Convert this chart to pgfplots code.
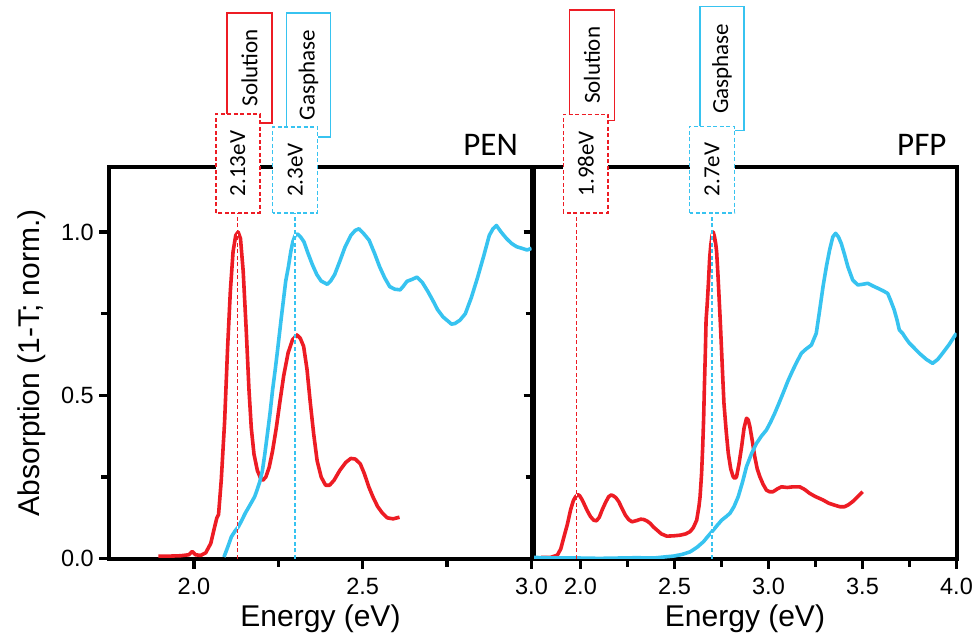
\documentclass[border=0pt]{standalone}
\usepackage{pgfplots}
\pgfplotsset{compat=1.18}
\usepackage{pgfplotstable}
\usepackage{fontspec}
\setmainfont{Liberation Sans}
\newfontfamily\boxfont{Carlito}
\usetikzlibrary{calc}

\definecolor{solred}{RGB}{237,28,36}
\definecolor{gasblue}{RGB}{55,195,240}

% ---------- PEN spectra ----------
\pgfplotstableread{
E A
1.895 0.008
1.930 0.008
1.960 0.009
1.985 0.012
1.995 0.022
2.005 0.012
2.020 0.010
2.035 0.018
2.050 0.047
2.062 0.100
2.068 0.125
2.073 0.135
2.081 0.240
2.091 0.420
2.100 0.650
2.108 0.820
2.116 0.940
2.124 0.990
2.131 1.000
2.138 0.980
2.146 0.880
2.155 0.700
2.163 0.520
2.170 0.400
2.178 0.320
2.188 0.270
2.198 0.245
2.204 0.240
2.213 0.250
2.223 0.280
2.233 0.330
2.244 0.400
2.254 0.475
2.266 0.560
2.279 0.630
2.292 0.670
2.305 0.685
2.315 0.675
2.325 0.650
2.335 0.580
2.345 0.475
2.355 0.380
2.365 0.300
2.377 0.250
2.390 0.225
2.402 0.225
2.415 0.240
2.432 0.270
2.450 0.295
2.465 0.307
2.478 0.305
2.493 0.290
2.505 0.260
2.518 0.220
2.530 0.190
2.544 0.160
2.558 0.140
2.573 0.125
2.590 0.122
2.609 0.127
}\pensol

\pgfplotstableread{
E A
2.089 0.005
2.100 0.035
2.111 0.067
2.122 0.085
2.132 0.098
2.142 0.118
2.152 0.139
2.162 0.157
2.172 0.175
2.180 0.190
2.187 0.210
2.195 0.235
2.203 0.270
2.210 0.320
2.218 0.384
2.226 0.450
2.233 0.516
2.241 0.580
2.248 0.640
2.258 0.730
2.265 0.790
2.272 0.850
2.280 0.894
2.287 0.940
2.293 0.970
2.300 0.990
2.307 0.994
2.316 0.985
2.326 0.970
2.338 0.935
2.351 0.900
2.364 0.870
2.377 0.850
2.395 0.840
2.405 0.850
2.417 0.870
2.432 0.910
2.448 0.955
2.465 0.990
2.478 1.005
2.489 1.010
2.503 0.995
2.519 0.975
2.535 0.935
2.550 0.894
2.565 0.860
2.580 0.833
2.595 0.825
2.611 0.823
2.621 0.835
2.631 0.849
2.646 0.855
2.661 0.862
2.677 0.845
2.693 0.818
2.708 0.790
2.722 0.762
2.738 0.740
2.753 0.727
2.763 0.718
2.773 0.720
2.788 0.730
2.804 0.750
2.822 0.800
2.840 0.860
2.858 0.925
2.875 0.990
2.886 1.010
2.896 1.020
2.910 1.000
2.926 0.980
2.941 0.965
2.956 0.955
2.972 0.950
2.987 0.945
3.000 0.950
}\pengas

% ---------- PFP spectra ----------
\pgfplotstableread{
E A
1.790 0.004
1.841 0.004
1.877 0.011
1.895 0.030
1.912 0.067
1.930 0.105
1.947 0.149
1.962 0.178
1.974 0.190
1.986 0.196
1.995 0.193
2.006 0.183
2.018 0.169
2.035 0.148
2.053 0.129
2.070 0.118
2.085 0.116
2.100 0.127
2.115 0.149
2.133 0.172
2.150 0.190
2.163 0.195
2.173 0.193
2.188 0.187
2.203 0.175
2.220 0.155
2.238 0.134
2.256 0.120
2.274 0.113
2.300 0.117
2.320 0.121
2.336 0.120
2.355 0.115
2.371 0.108
2.388 0.097
2.406 0.088
2.430 0.076
2.459 0.069
2.495 0.070
2.530 0.072
2.560 0.076
2.583 0.083
2.600 0.095
2.618 0.118
2.630 0.160
2.636 0.190
2.644 0.260
2.650 0.343
2.655 0.430
2.659 0.527
2.664 0.630
2.668 0.731
2.674 0.780
2.680 0.840
2.687 0.920
2.693 0.960
2.700 0.990
2.706 1.000
2.713 0.985
2.719 0.965
2.724 0.940
2.731 0.870
2.738 0.790
2.744 0.720
2.751 0.629
2.757 0.550
2.763 0.476
2.775 0.390
2.786 0.323
2.799 0.275
2.812 0.251
2.821 0.246
2.830 0.251
2.843 0.290
2.857 0.343
2.870 0.400
2.883 0.430
2.892 0.425
2.901 0.404
2.914 0.360
2.927 0.312
2.940 0.275
2.954 0.251
2.971 0.228
2.989 0.210
3.005 0.205
3.024 0.205
3.045 0.213
3.069 0.220
3.100 0.218
3.130 0.220
3.166 0.220
3.192 0.212
3.219 0.200
3.250 0.190
3.289 0.180
3.320 0.170
3.351 0.164
3.380 0.159
3.404 0.159
3.425 0.165
3.448 0.175
3.475 0.190
3.501 0.205
}\pfpsol

\pgfplotstableread{
E A
1.753 0.004
1.800 0.003
1.900 0.002
2.000 0.002
2.100 0.001
2.200 0.002
2.300 0.003
2.389 0.002
2.440 0.005
2.495 0.008
2.540 0.013
2.583 0.021
2.620 0.035
2.654 0.052
2.680 0.070
2.707 0.088
2.730 0.104
2.751 0.118
2.773 0.128
2.795 0.139
2.817 0.160
2.839 0.190
2.862 0.235
2.883 0.282
2.910 0.322
2.936 0.353
2.962 0.375
2.989 0.394
3.011 0.418
3.033 0.445
3.055 0.475
3.077 0.506
3.104 0.545
3.130 0.578
3.153 0.605
3.175 0.629
3.200 0.642
3.228 0.654
3.254 0.690
3.272 0.760
3.290 0.833
3.308 0.895
3.325 0.945
3.342 0.985
3.357 0.996
3.372 0.985
3.387 0.965
3.405 0.930
3.422 0.894
3.448 0.853
3.475 0.838
3.500 0.840
3.528 0.843
3.555 0.835
3.581 0.828
3.610 0.820
3.634 0.812
3.650 0.790
3.669 0.761
3.684 0.730
3.696 0.700
3.713 0.690
3.730 0.675
3.749 0.660
3.775 0.645
3.802 0.629
3.840 0.610
3.873 0.598
3.900 0.610
3.926 0.629
3.960 0.655
3.988 0.680
4.000 0.690
}\pfpgas

\tikzset{
  marker line/.style={line width=1.4pt, dash pattern=on 4pt off 2.5pt},
  namebox/.style={line width=1.5pt, fill=white},
  valbox/.style={line width=1.5pt, fill=white, dash pattern=on 4pt off 2.5pt},
  boxtext/.style={rotate=90, black, font=\boxfont\fontsize{23}{28}\selectfont, inner sep=0pt},
}

\pgfplotsset{
  panel/.style={
    scale only axis, height=392pt,
    xmin=1.75, ymin=0, ymax=1.2,
    axis line style={line width=4pt},
    tick align=outside, tick pos=left,
    major tick length=10pt, minor tick length=8pt,
    tick style={black, line width=3.5pt},
    minor x tick num=1, minor y tick num=1,
    ytick={0,0.5,1.0},
    tick label style={font=\fontsize{23.5}{28}\selectfont,
      /pgf/number format/fixed, /pgf/number format/fixed zerofill,
      /pgf/number format/precision=1,
      /pgf/number format/assume math mode=true},
    xticklabel style={inner sep=0pt, anchor=north, yshift=-9.6pt},
    yticklabel style={inner sep=0pt, anchor=east, xshift=-5.5pt},
    label style={font=\fontsize{30}{36}\selectfont},
    xlabel={Energy (eV)},
    xlabel style={at={(axis description cs:0.5,-0.1735)}, anchor=base, inner sep=0pt},
    title style={anchor=base east, inner sep=0pt, font=\boxfont\fontsize{33}{40}\selectfont},
  },
  sol/.style={solred, line width=3.6pt, line join=round, no markers},
  gas/.style={gasblue, line width=3.6pt, line join=round, no markers},
}

\begin{document}
\begin{tikzpicture}
\path[use as bounding box] (-109.5pt,-83.3pt) rectangle (869.5pt,558.7pt);

% PEN panel
\begin{axis}[panel, name=L, at={(0pt,0pt)}, width=422pt,
    xmax=3.0, xtick={2.0,2.5,3.0},
    ylabel={Absorption (1-T; norm.)},
    ylabel style={at={(axis description cs:-0.1836,0.5)}, anchor=center, inner sep=0pt},
    title={PEN}, title style={at={(axis description cs:0.968,1.0128)}}]
  \addplot[sol] table[x=E, y=A] {\pensol};
  \addplot[gas] table[x=E, y=A] {\pengas};
  \draw[white, line width=1.4pt] (axis cs:2.13,0) -- (axis cs:2.13,1.0583);
  \draw[solred, marker line] (axis cs:2.13,0) -- (axis cs:2.13,1.0583);
  \draw[white, line width=1.4pt] (axis cs:2.3,0) -- (axis cs:2.3,1.0583);
  \draw[gasblue, marker line] (axis cs:2.3,0) -- (axis cs:2.3,1.0583);
  \coordinate (p1) at (axis cs:2.13,0);
  \coordinate (p2) at (axis cs:2.3,0);
\end{axis}

% PFP panel
\begin{axis}[panel, name=R, at={(424pt,0pt)}, width=423pt,
    xmax=4.0, xtick={2.0,2.5,3.0,3.5,4.0},
    yticklabels={,,},
    title={PFP}, title style={at={(axis description cs:0.9768,1.0128)}}]
  \addplot[sol] table[x=E, y=A] {\pfpsol};
  \addplot[gas] table[x=E, y=A] {\pfpgas};
  \draw[white, line width=1.4pt] (axis cs:1.98,0) -- (axis cs:1.98,1.0583);
  \draw[solred, marker line] (axis cs:1.98,0) -- (axis cs:1.98,1.0583);
  \draw[white, line width=1.4pt] (axis cs:2.7,0) -- (axis cs:2.7,1.0583);
  \draw[gasblue, marker line] (axis cs:2.7,0) -- (axis cs:2.7,1.0583);
  \coordinate (q1) at (axis cs:1.98,0);
  \coordinate (q2) at (axis cs:2.7,0);
\end{axis}

% PEN: solution 2.13 eV
\draw[solred, namebox] ($(p1)+(-10.8pt,435.7pt)$) rectangle ($(p1)+(34.2pt,545.7pt)$);
\node[boxtext] at ($(p1)+(11.7pt,490.7pt)$) {Solution};
\draw[solred, valbox] ($(p1)+(-22pt,345.7pt)$) rectangle ($(p1)+(22pt,444.7pt)$);
\node[boxtext] at ($(p1)+(0pt,395.2pt)$) {2.13eV};

% PEN: gas phase 2.3 eV
\draw[gasblue, namebox] ($(p2)+(-8.9pt,421.7pt)$) rectangle ($(p2)+(35.3pt,545.7pt)$);
\node[boxtext] at ($(p2)+(13.2pt,483.7pt)$) {Gasphase};
\draw[gasblue, valbox] ($(p2)+(-22.5pt,345.7pt)$) rectangle ($(p2)+(22.5pt,431.7pt)$);
\node[boxtext] at ($(p2)+(0pt,388.7pt)$) {2.3eV};

% PFP: solution 1.98 eV
\draw[solred, namebox] ($(q1)+(-7pt,438pt)$) rectangle ($(q1)+(37.7pt,548.7pt)$);
\node[boxtext] at ($(q1)+(15.35pt,493.35pt)$) {Solution};
\draw[solred, valbox] ($(q1)+(-13.3pt,345.7pt)$) rectangle ($(q1)+(31.3pt,444.4pt)$);
\node[boxtext] at ($(q1)+(9pt,395.05pt)$) {1.98eV};

% PFP: gas phase 2.7 eV
\draw[gasblue, namebox] ($(q2)+(-12.1pt,428pt)$) rectangle ($(q2)+(31.9pt,552pt)$);
\node[boxtext] at ($(q2)+(9.9pt,490pt)$) {Gasphase};
\draw[gasblue, valbox] ($(q2)+(-22.5pt,345.7pt)$) rectangle ($(q2)+(22.5pt,432.4pt)$);
\node[boxtext] at ($(q2)+(0pt,389.05pt)$) {2.7eV};
\end{tikzpicture}
\end{document}
